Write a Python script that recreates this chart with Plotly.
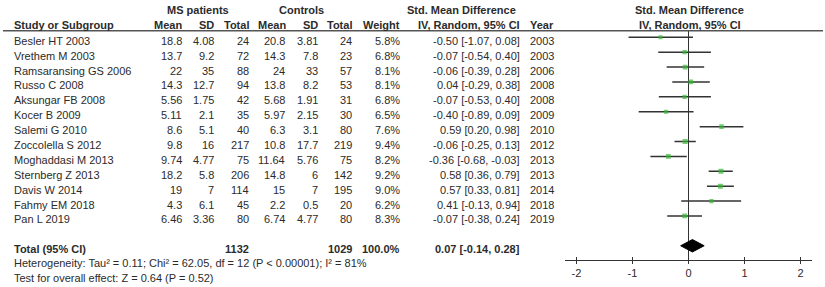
import plotly.graph_objects as go

studies = ["Besler HT 2003", "Vrethem M 2003", "Ramsaransing GS 2006", "Russo C 2008",
           "Aksungar FB 2008", "Kocer B 2009", "Salemi G 2010", "Zoccolella S 2012",
           "Moghaddasi M 2013", "Sternberg Z 2013", "Davis W 2014", "Fahmy EM 2018", "Pan L 2019"]
ms_mean = [18.8, 13.7, 22, 14.3, 5.56, 5.11, 8.6, 9.8, 9.74, 18.2, 19, 4.3, 6.46]
ms_sd = [4.08, 9.2, 35, 12.7, 1.75, 2.1, 5.1, 16, 4.77, 5.8, 7, 6.1, 3.36]
ms_n = [24, 72, 88, 94, 42, 35, 40, 217, 75, 206, 114, 45, 80]
ct_mean = [20.8, 14.3, 24, 13.8, 5.68, 5.97, 6.3, 10.8, 11.64, 14.8, 15, 2.2, 6.74]
ct_sd = [3.81, 7.8, 33, 8.2, 1.91, 2.15, 3.1, 17.7, 5.76, 6, 7, 0.5, 4.77]
ct_n = [24, 23, 57, 53, 31, 30, 80, 219, 75, 142, 195, 20, 80]
weight = [5.8, 6.8, 8.1, 8.1, 6.8, 6.5, 7.6, 9.4, 8.2, 9.2, 9.0, 6.2, 8.3]
smd = [-0.50, -0.07, -0.06, 0.04, -0.07, -0.40, 0.59, -0.06, -0.36, 0.58, 0.57, 0.41, -0.07]
ci_lo = [-1.07, -0.54, -0.39, -0.29, -0.53, -0.89, 0.20, -0.25, -0.68, 0.36, 0.33, -0.13, -0.38]
ci_hi = [0.08, 0.40, 0.28, 0.38, 0.40, 0.09, 0.98, 0.13, -0.03, 0.79, 0.81, 0.94, 0.24]
years = [2003, 2003, 2006, 2008, 2008, 2009, 2010, 2012, 2013, 2013, 2014, 2018, 2019]

total_ms = 1132
total_ct = 1029
total_weight = 100.0
pooled = 0.07
pooled_lo = -0.14
pooled_hi = 0.28
heterogeneity = "Heterogeneity: Tau² = 0.11; Chi² = 62.05, df = 12 (P < 0.00001); I² = 81%"
overall = "Test for overall effect: Z = 0.64 (P = 0.52)"
tick_vals = [-2, -1, 0, 1, 2]

W, H = 825, 287
FONT = "Liberation Sans, Arial, sans-serif"
TXT = "#2b2b2b"
GREEN = "#36b836"

ROW0, ROWSTEP = 37.3, 14.89
TOFF = 3.5
def rowy(i):
    return ROW0 + ROWSTEP * i

fig = go.Figure()

# CI lines
xs, ys = [], []
for i in range(len(studies)):
    xs += [ci_lo[i], ci_hi[i], None]
    ys += [rowy(i), rowy(i), None]
fig.add_trace(go.Scatter(x=xs, y=ys, mode="lines", line=dict(color="#333333", width=1.5),
                         hoverinfo="skip", showlegend=False))
# zero line
fig.add_trace(go.Scatter(x=[0, 0], y=[30.7, 260], mode="lines", line=dict(color="#333333", width=1),
                         hoverinfo="skip", showlegend=False))
# markers
fig.add_trace(go.Scatter(x=smd, y=[rowy(i) for i in range(len(studies))], mode="markers",
                         marker=dict(symbol="square", color=GREEN,
                                     size=[5.0 * (w / 9.2) ** 0.5 for w in weight], line=dict(width=0)),
                         showlegend=False))
# diamond
yc = rowy(14)
fig.add_trace(go.Scatter(x=[pooled_lo, pooled, pooled_hi, pooled, pooled_lo],
                         y=[yc, yc - 6.2, yc, yc + 6.2, yc], mode="lines", fill="toself",
                         fillcolor="black", line=dict(color="black", width=1), showlegend=False))
# invisible trace for x2
fig.add_trace(go.Scatter(x=[0], y=[-10], xaxis="x2", mode="markers", marker=dict(opacity=0),
                         showlegend=False, hoverinfo="skip"))

ann = []
def txt(x, y, s, anchor="right", bold=False, size=11):
    if bold:
        s = "<b>" + s + "</b>"
    ann.append(dict(x=x / W, y=y, xref="paper", yref="y", text=s, showarrow=False,
                    xanchor=anchor, yanchor="middle", font=dict(family=FONT, size=size, color=TXT)))

# headers
HY1, HY2 = 9.5, 24.8
txt(197.5, HY1, "MS patients", "center", True)
txt(301.7, HY1, "Controls", "center", True)
txt(461.5, HY1, "Std. Mean Difference", "center", True)
txt(689, HY1, "Std. Mean Difference", "center", True)
txt(12, HY2, "Study or Subgroup", "left", True)
txt(184, HY2, "Mean", "right", True)
txt(216, HY2, "SD", "right", True)
txt(251, HY2, "Total", "right", True)
txt(288, HY2, "Mean", "right", True)
txt(319.5, HY2, "SD", "right", True)
txt(354, HY2, "Total", "right", True)
txt(402, HY2, "Weight", "right", True)
txt(522, HY2, "IV, Random, 95% CI", "right", True)
txt(556, HY2, "Year", "right", True)
txt(690, HY2, "IV, Random, 95% CI", "center", True)

cols = [184, 216, 251, 287, 319.5, 354, 402, 522, 556]
for i, s in enumerate(studies):
    y = rowy(i) + TOFF
    txt(12, y, s, "left")
    vals = [f"{ms_mean[i]:g}", f"{ms_sd[i]:g}", f"{ms_n[i]}", f"{ct_mean[i]:g}", f"{ct_sd[i]:g}",
            f"{ct_n[i]}", f"{weight[i]:.1f}%", f"{smd[i]:.2f} [{ci_lo[i]:.2f}, {ci_hi[i]:.2f}]",
            f"{years[i]}"]
    for c, v in zip(cols, vals):
        txt(c, y, v, "right")

yt = 248.5
txt(12, yt, "Total (95% CI)", "left", True)
txt(251, yt, f"{total_ms}", "right", True)
txt(354, yt, f"{total_ct}", "right", True)
txt(402, yt, f"{total_weight:.1f}%", "right", True)
txt(522, yt, f"{pooled:.2f} [{pooled_lo:.2f}, {pooled_hi:.2f}]", "right", True)
txt(12, 263.3, heterogeneity, "left")
txt(12, 277.5, overall, "left")

X0, UNIT = 688.5, 56.0
XR = [-2.21, 2.21]
dom = [(X0 + XR[0] * UNIT) / W, (X0 + XR[1] * UNIT) / W]
axis_pos = (H - 260) / H

fig.update_layout(
    width=W, height=H, margin=dict(l=0, r=0, t=0, b=0),
    paper_bgcolor="white", plot_bgcolor="white",
    annotations=ann,
    shapes=[dict(type="line", xref="paper", yref="y", x0=3 / W, x1=823 / W, y0=30.7, y1=30.7,
                 line=dict(color="#555555", width=1.5))],
    xaxis=dict(domain=dom, range=XR, anchor="free", position=axis_pos, showgrid=False,
               zeroline=False, showline=True, linecolor="#333333", linewidth=1,
               ticks="outside", ticklen=3, tickcolor="#333333", tickwidth=1,
               tickvals=tick_vals, ticktext=[str(t) for t in tick_vals],
               tickfont=dict(family=FONT, size=11, color=TXT), automargin=False),
    xaxis2=dict(domain=dom, range=XR, anchor="free", position=axis_pos, overlaying="x",
                showgrid=False, zeroline=False, showline=False, ticks="inside", ticklen=3,
                tickcolor="#333333", tickwidth=1, tickvals=tick_vals, showticklabels=False),
    yaxis=dict(domain=[0, 1], range=[H, 0], visible=False, showgrid=False, zeroline=False),
    showlegend=False,
)

fig.write_html("out.html", config={"displayModeBar": False},
               post_script="document.body.style.margin='0px';document.body.style.padding='0px';")
